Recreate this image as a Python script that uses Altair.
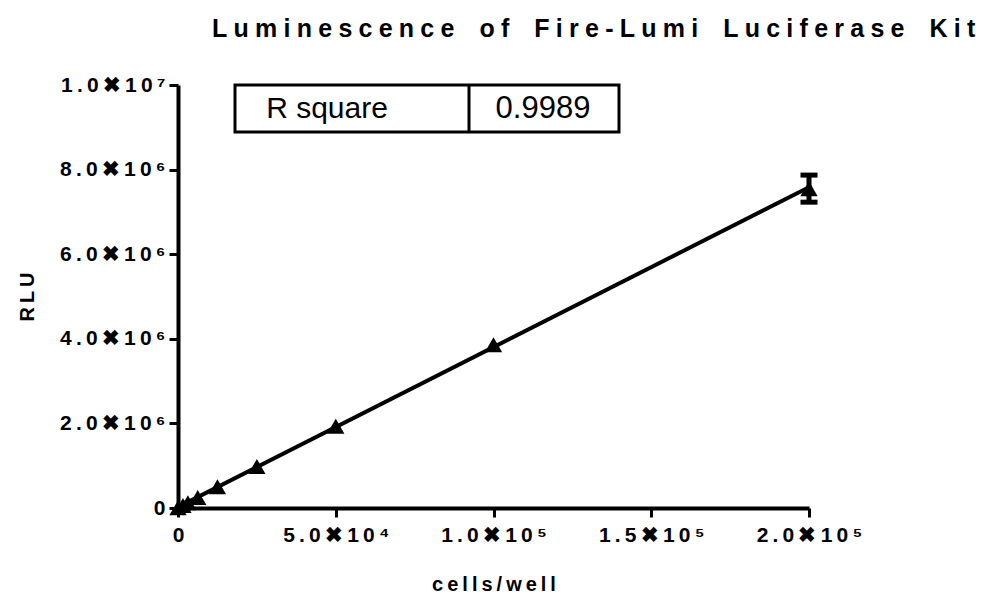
import altair as alt
import pandas as pd

# data
cells = [0, 1563, 3125, 6250, 12500, 25000, 50000, 100000, 200000]
rlu = [5000, 60000, 125000, 250000, 500000, 980000, 1930000, 3860000, 7550000]
rlu_err = [0, 0, 0, 0, 0, 0, 0, 0, 320000]

x_ticks = [0, 50000, 100000, 150000, 200000]
x_tick_labels = ["0", "5.0\u271610\u2074", "1.0\u271610\u2075", "1.5\u271610\u2075", "2.0\u271610\u2075"]
y_ticks = [0, 2000000, 4000000, 6000000, 8000000, 10000000]
y_tick_labels = ["0", "2.0\u271610\u2076", "4.0\u271610\u2076", "6.0\u271610\u2076", "8.0\u271610\u2076", "1.0\u271610\u2077"]

title_text = "Luminescence of Fire-Lumi Luciferase Kit"
x_title = "cells/well"
y_title = "RLU"
table_label = "R square"
table_value = "0.9989"

TS = "\u2009"


def spaced(s, sep=TS, word="\u2002"):
    words = s.split(" ")
    return (sep + word + sep).join(sep.join(list(w)) for w in words)


def label_expr(ticks, labels):
    expr = "''"
    for t, l in reversed(list(zip(ticks, labels))):
        expr = f"datum.value == {t} ? '{spaced(l)}' : ({expr})"
    return expr


df = pd.DataFrame({"cells": cells, "rlu": rlu, "err": rlu_err})
df["lo"] = df["rlu"] - df["err"]
df["hi"] = df["rlu"] + df["err"]
err_df = df[df["err"] > 0]

W, H = 631, 423
FONT = "Liberation Sans"

xs = alt.Scale(domain=[0, 200000], nice=False, zero=True)
ys = alt.Scale(domain=[0, 10000000], nice=False, zero=True)

x_axis = alt.Axis(values=x_ticks, labelExpr=label_expr(x_ticks, x_tick_labels), title=spaced(x_title),
                  labelPadding=7, titlePadding=29)
y_axis = alt.Axis(values=y_ticks, labelExpr=label_expr(y_ticks, y_tick_labels), title=spaced(y_title),
                  labelPadding=4, titlePadding=22)

X = alt.X("cells:Q", scale=xs, axis=x_axis)
Y = alt.Y("rlu:Q", scale=ys, axis=y_axis)

base = alt.Chart(df)

fit = base.transform_regression("cells", "rlu", extent=[0, 200000]).mark_line(
    color="black", strokeWidth=4, clip=False
).encode(x=X, y=Y)

pts = base.mark_point(shape="triangle-up", filled=True, color="black", size=300, opacity=1).encode(x=X, y=Y)

eb = alt.Chart(err_df).mark_rule(color="black", strokeWidth=5, opacity=1).encode(
    x=X, y=alt.Y("lo:Q", scale=ys, axis=y_axis), y2="hi:Q")
cap_hi = alt.Chart(err_df).mark_tick(color="black", thickness=5, size=17, orient="horizontal", opacity=1).encode(
    x=X, y=alt.Y("hi:Q", scale=ys, axis=y_axis))
cap_lo = alt.Chart(err_df).mark_tick(color="black", thickness=5, size=17, orient="horizontal", opacity=1).encode(
    x=X, y=alt.Y("lo:Q", scale=ys, axis=y_axis))

tbl = pd.DataFrame({"k": [0]})
box = alt.Chart(tbl).mark_rect(fill="white", stroke="black", strokeWidth=3).encode(
    x=alt.value(57), x2=alt.value(441), y=alt.value(0), y2=alt.value(47))
divider = alt.Chart(tbl).mark_rule(color="black", strokeWidth=3).encode(
    x=alt.value(291), y=alt.value(0), y2=alt.value(47))
t1 = alt.Chart(tbl).mark_text(text=table_label, font=FONT, fontSize=30, color="black", align="center",
                              baseline="middle").encode(x=alt.value(149), y=alt.value(24))
t2 = alt.Chart(tbl).mark_text(text=table_value, font=FONT, fontSize=31, color="black", align="center",
                              baseline="middle").encode(x=alt.value(365), y=alt.value(24))

chart = alt.layer(fit, eb, cap_hi, cap_lo, pts, box, divider, t1, t2).properties(
    width=W, height=H,
    title=alt.TitleParams(spaced(title_text, "\u2005", "\u2002"), anchor="start", frame="group", dx=34, offset=32,
                          font=FONT, fontSize=25, fontWeight="bold", color="black"),
    autosize=alt.AutoSizeParams(type="none"),
    padding={"left": 170, "top": 77, "right": 191, "bottom": 87},
).configure(background="white").configure_view(stroke=None).configure_axis(
    grid=False, domainWidth=4, domainColor="black", tickWidth=3, tickColor="black", tickSize=9,
    labelFont=FONT, labelFontWeight="bold", labelFontSize=21, labelColor="black",
    labelFlush=False, labelOverlap=False,
    titleFont=FONT, titleFontWeight="bold", titleFontSize=20, titleColor="black",
)

chart.save("out.html", embed_options={"renderer": "svg", "actions": False})
